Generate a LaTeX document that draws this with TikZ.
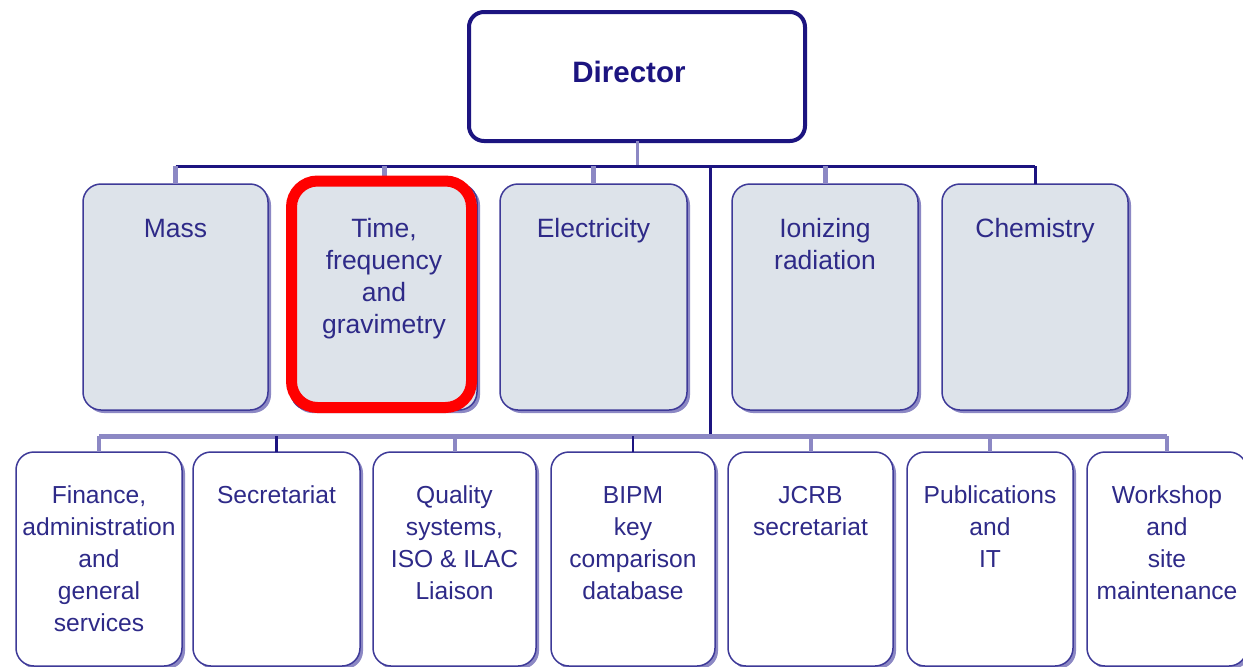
\documentclass[tikz,border=0pt]{standalone}
\usepackage{fontspec}
\setmainfont{Liberation Sans}
\usetikzlibrary{shadows}
\definecolor{navy}{HTML}{1C1480}
\definecolor{lav}{HTML}{8C88C4}
\definecolor{boxline}{HTML}{3E3A98}
\definecolor{boxfill}{HTML}{DDE3EA}
\definecolor{txt}{HTML}{2E2A88}
\begin{document}
\begin{tikzpicture}[x=1pt,y=-1pt,
  every node/.style={outer sep=0pt},
  unitbox/.style={rectangle, rounded corners=18pt, draw=boxline, line width=1.5pt,
    anchor=north west, inner sep=0pt,
    drop shadow={shadow xshift=3pt, shadow yshift=-3pt, fill=lav, opacity=1}},
  topbox/.style={unitbox, fill=boxfill, minimum height=226pt},
  lowbox/.style={unitbox, fill=white, minimum height=214pt},
  toplabel/.style={anchor=north, inner sep=0pt, align=center, text=txt,
    font=\fontsize{26.5}{32}\selectfont},
  lowlabel/.style={anchor=north, inner sep=0pt, align=center, text=txt,
    font=\fontsize{24.6}{32}\selectfont},
  darkline/.style={navy, line width=3pt},
  lightline/.style={lav, line width=5pt},
  lightdrop/.style={lav, line width=4pt}
]
\useasboundingbox (0,0) rectangle (1243,667);
\fill[white] (0,0) rectangle (1243,667);

% Director
\node[rectangle, rounded corners=15pt, draw=navy, line width=4pt, fill=white,
      minimum width=336pt, minimum height=129pt, anchor=north west, inner sep=0pt]
      (dir) at (469,12) {};
\node[anchor=base, text=navy, font=\bfseries\fontsize{29.5}{34}\selectfont]
      (dir-t) at (629,82.7) {Director};

% bus coordinates
\coordinate (bus1) at (637,166);
\coordinate (bus2) at (710,436);

% top-level boxes
\node[topbox, minimum width=185pt] (mass) at (83,184) {};
\node[topbox, minimum width=186pt] (time) at (291,184) {};
\node[topbox, minimum width=187pt] (elec) at (500,184) {};
\node[topbox, minimum width=186pt] (ion)  at (732,184) {};
\node[topbox, minimum width=186pt] (chem) at (942,184) {};

% lower boxes
\node[lowbox, minimum width=166pt] (fin)  at (16,452) {};
\node[lowbox, minimum width=167pt] (sec)  at (193,452) {};
\node[lowbox, minimum width=163pt] (qual) at (373,452) {};
\node[lowbox, minimum width=164pt] (bipm) at (551,452) {};
\node[lowbox, minimum width=165pt] (jcrb) at (728,452) {};
\node[lowbox, minimum width=166pt] (pub)  at (907,452) {};
\node[lowbox, minimum width=160pt] (work) at (1087,452) {};

% connectors: director to first bus
\draw[lav, line width=3pt] (dir.south) -- (dir.south |- bus1);
\draw[darkline] (mass.north |- bus1) -- (chem.north |- bus1);
\foreach \n in {mass,time,elec,ion}
  \draw[lightline] (\n.north) -- (\n.north |- bus1);
\draw[darkline] (chem.north) -- (chem.north |- bus1);

% trunk and lower bus
\draw[darkline] (bus2 |- bus1) -- (bus2);
\draw[lightline] (fin.north |- bus2) -- (work.north |- bus2);
\foreach \n in {fin,qual,jcrb,pub,work}
  \draw[lightdrop] (\n.north) -- (\n.north |- bus2);
\foreach \n in {sec,bipm}
  \draw[navy, line width=2.5pt] (\n.north) -- (\n.north |- bus2);

% labels top
\node[toplabel] (mass-t) at ([yshift=-31pt]mass.north) {\strut Mass};
\node[toplabel] (time-t) at ([yshift=-31pt]time.north) {\strut Time,\\frequency\\and\\gravimetry};
\node[toplabel] (elec-t) at ([yshift=-31pt]elec.north) {\strut Electricity};
\node[toplabel] (ion-t)  at ([yshift=-31pt]ion.north)  {\strut Ionizing\\radiation};
\node[toplabel] (chem-t) at ([yshift=-31pt]chem.north) {\strut Chemistry};

% labels lower
\node[lowlabel] (fin-t)  at ([yshift=-29pt]fin.north)  {\strut Finance,\\administration\\and\\general\\services};
\node[lowlabel] (sec-t)  at ([yshift=-29pt]sec.north)  {\strut Secretariat};
\node[lowlabel] (qual-t) at ([yshift=-29pt]qual.north) {\strut Quality\\systems,\\ISO \& ILAC\\Liaison};
\node[lowlabel] (bipm-t) at ([yshift=-29pt]bipm.north) {\strut BIPM\\key\\comparison\\database};
\node[lowlabel] (jcrb-t) at ([yshift=-29pt]jcrb.north) {\strut JCRB\\secretariat};
\node[lowlabel] (pub-t)  at ([yshift=-29pt]pub.north)  {\strut Publications\\and\\IT};
\node[lowlabel] (work-t) at ([yshift=-29pt]work.north) {\strut Workshop\\and\\site\\maintenance};

% red highlight
\node[rectangle, draw=red, line width=11pt, rounded corners=26pt, inner sep=0pt,
      minimum width=180pt, minimum height=226.5pt, anchor=north west]
      (hl) at (291.5,181) {};
\end{tikzpicture}
\end{document}
